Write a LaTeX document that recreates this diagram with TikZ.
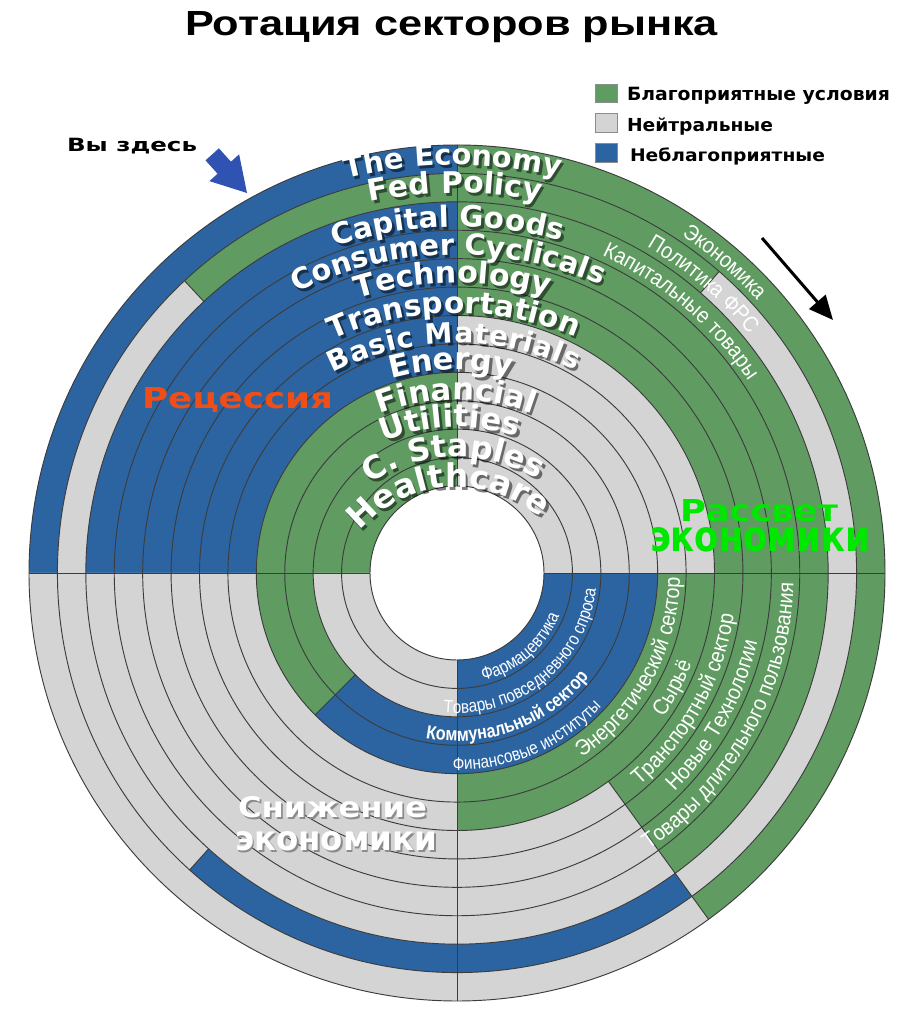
\documentclass[tikz,border=0pt]{standalone}
\usepackage{fontspec}
\setmainfont{Liberation Sans}
\newfontfamily\dvfamily{DejaVu Sans}
\newfontfamily\narrowfamily{Liberation Sans}[FakeStretch=0.9]
\newfontfamily\narrowerfamily{Liberation Sans}[FakeStretch=0.85]
\usetikzlibrary{decorations.text,arrows.meta}
\newlength\pxu
\setlength\pxu{0.75pt}
\definecolor{cgreen}{RGB}{96,156,98}
\definecolor{cgray}{RGB}{212,212,212}
\definecolor{cblue}{RGB}{44,100,162}
\definecolor{cline}{RGB}{60,60,60}
\definecolor{cred}{RGB}{240,78,22}
\definecolor{cbright}{RGB}{0,232,0}
\definecolor{carrow}{RGB}{48,82,178}
\newcommand\annseg[5]{\fill[#1] (#2:#5) arc[start angle=#2,end angle=#3,radius=#5] -- (#3:#4) arc[start angle=#3,end angle=#2,radius=#4] -- cycle;}
\newcommand\englabfont[1]{\dvfamily\bfseries\fontsize{#1pt}{#1pt}\selectfont}
\newcommand\englab[5]{%
  \begin{scope}[shift={(459.5,398)},opacity=0.5]
    \path[decoration={text along path,text align=fit to path,text={|\englabfont{#5}\color{black}|#4}},decorate]
      (#2:#1) arc[start angle=#2,end angle=#3,radius=#1];
  \end{scope}
  \begin{scope}[shift={(457,401)}]
    \path[decoration={text along path,text align=fit to path,text={|\englabfont{#5}\color{white}|#4}},decorate]
      (#2:#1) arc[start angle=#2,end angle=#3,radius=#1];
  \end{scope}}
\newcommand\rufontA{\narrowfamily\fontsize{16.5pt}{17pt}\selectfont\color{white}}
\newcommand\rufontB{\narrowerfamily\fontsize{13.5pt}{14pt}\selectfont\color{white}}
\newcommand\rufontC{\narrowerfamily\bfseries\fontsize{14.25pt}{15pt}\selectfont\color{white}}
\newcommand\rucw[4]{\path[decoration={text along path,text align=center,text={|#1|#4}},decorate] (#3+70:#2) arc[start angle=#3+70,end angle=#3-70,radius=#2];}
\newcommand\ruccw[4]{\path[decoration={text along path,text align=center,text={|#1|#4}},decorate] (#3-70:#2) arc[start angle=#3-70,end angle=#3+70,radius=#2];}
\tikzset{sepline/.style={draw=cline,line width=0.7pt},
  legbox/.style={draw=black!45,line width=0.75pt},
  plain/.style={anchor=base west,inner sep=0pt,outer sep=0pt}}
\begin{document}
\begin{tikzpicture}[x=0.75pt,y=0.75pt]
\useasboundingbox (0,0) rectangle (911,1017);
\fill[white] (0,0) rectangle (911,1017);
\begin{scope}[shift={(457,444)}]
  % ring 1
  \annseg{cgreen}{-54}{90}{399.58}{428}
  \annseg{cblue}{90}{180}{399.58}{428}
  \annseg{cgray}{180}{306}{399.58}{428}
  % ring 2
  \annseg{cgray}{-54}{49}{371.17}{399.58}
  \annseg{cgreen}{49}{133}{371.17}{399.58}
  \annseg{cgray}{133}{228}{371.17}{399.58}
  \annseg{cblue}{228}{306}{371.17}{399.58}
  % rings 3-6
  \annseg{cgreen}{-54}{90}{257.5}{371.17}
  \annseg{cblue}{90}{180}{257.5}{371.17}
  \annseg{cgray}{180}{306}{257.5}{371.17}
  % rings 7-8
  \annseg{cgreen}{-90}{0}{200.67}{257.5}
  \annseg{cgray}{0}{90}{200.67}{257.5}
  \annseg{cblue}{90}{180}{200.67}{257.5}
  \annseg{cgray}{180}{270}{200.67}{257.5}
  % rings 9-10
  \annseg{cblue}{-135}{0}{143.83}{200.67}
  \annseg{cgray}{0}{90}{143.83}{200.67}
  \annseg{cgreen}{90}{225}{143.83}{200.67}
  % rings 11-12
  \annseg{cblue}{-90}{0}{87}{143.83}
  \annseg{cgray}{0}{90}{87}{143.83}
  \annseg{cgreen}{90}{180}{87}{143.83}
  \annseg{cgray}{180}{270}{87}{143.83}
  % separators
  \foreach \r in {87,115.42,143.83,172.25,200.67,229.08,257.5,285.92,314.33,342.75,371.17,399.58,428}
    \draw[sepline] (0,0) circle[radius=\r];
  \foreach \a in {0,90,180,270}
    \draw[sepline] (\a:87) -- (\a:428);
  \draw[sepline] (-54:257.5) -- (-54:428);
  \draw[sepline] (49:371.17) -- (49:399.58);
  \draw[sepline] (133:371.17) -- (133:399.58);
  \draw[sepline] (228:371.17) -- (228:399.58);
  \draw[sepline] (225:143.83) -- (225:200.67);
  % Russian labels
  \rucw{\rufontA}{405.6}{49.3}{Экономика}
  \rucw{\rufontA}{377.2}{49.5}{Политика ФРС}
  \rucw{\rufontA}{348.8}{49.4}{Капитальные товары}
  \ruccw{\rufontA}{223}{-28.5}{Энергетический сектор}
  \ruccw{\rufontA}{251.5}{-28}{Сырьё}
  \ruccw{\rufontA}{280}{-29}{Транспортный сектор}
  \ruccw{\rufontA}{308.3}{-29}{Новые Технологии}
  \ruccw{\rufontA}{336.8}{-28.5}{Товары длительного пользования}
  \ruccw{\rufontB}{111}{-49.5}{Фармацевтика}
  \ruccw{\rufontB}{140}{-51}{Товары повседневного спроса}
  \ruccw{\rufontC}{168}{-69.5}{Коммунальный сектор}
  \ruccw{\rufontB}{197}{-67}{Финансовые институты}
\end{scope}
% English labels: radius, start, end, text, font size (pt)
\englab{451}{104.2}{76.9}{The Economy}{21.6}
\englab{423}{101.9}{79.0}{Fed Policy}{22.3}
\englab{389}{108.3}{74.4}{Capital Goods}{22}
\englab{361}{116.4}{66.6}{Consumer Cyclicals}{21.7}
\englab{333}{107.4}{74.1}{Technology}{22.5}
\englab{303}{114.2}{66.9}{Transportation}{22.2}
\englab{273}{117.0}{64.3}{Basic Materials}{21}
\englab{246}{105.4}{77.2}{Energy}{23}
\englab{216}{110.9}{70.4}{Financial}{23}
\englab{189}{112.8}{71.3}{Utilities}{23.2}
\englab{159}{123.5}{60.0}{C. Staples}{23.6}
\englab{129}{139}{50}{Healthcare}{24.5}
% region labels
\node[plain] (recess) at (142,608) {\resizebox{191\pxu}{21\pxu}{\color{cred}\dvfamily\bfseries Рецессия}};
\node[plain] (dawn1) at (680,495) {\resizebox{158\pxu}{22\pxu}{\color{cbright}\dvfamily\bfseries Рассвет}};
\node[plain] (dawn2) at (650,465) {\resizebox{220\pxu}{24\pxu}{\color{cbright}\dvfamily\bfseries экономики}};
\node[plain] (down1s) at (239.8,197.3) {\resizebox{189\pxu}{21\pxu}{\color{black!45}\dvfamily\bfseries Снижение}};
\node[plain] (down2s) at (236.8,164.3) {\resizebox{202\pxu}{19\pxu}{\color{black!45}\dvfamily\bfseries экономики}};
\node[plain] (down1) at (238,199) {\resizebox{189\pxu}{21\pxu}{\color{white}\dvfamily\bfseries Снижение}};
\node[plain] (down2) at (235,166) {\resizebox{202\pxu}{19\pxu}{\color{white}\dvfamily\bfseries экономики}};
% title
\node[plain] (title) at (185,981) {\resizebox{533\pxu}{24\pxu}{\bfseries Ротация секторов рынка}};
% legend
\filldraw[legbox,fill=cgreen] (595,914) rectangle (617,932);
\filldraw[legbox,fill=cgray] (595,884) rectangle (617,903);
\filldraw[legbox,fill=cblue] (595,854) rectangle (617,873);
\node[plain] (lg1) at (627,916) {\resizebox{263\pxu}{13.3\pxu}{\dvfamily\bfseries Благоприятные условия}};
\node[plain] (lg2) at (627,885.3) {\resizebox{146\pxu}{13.7\pxu}{\dvfamily\bfseries Нейтральные}};
\node[plain] (lg3) at (630,855.3) {\resizebox{195\pxu}{13.7\pxu}{\dvfamily\bfseries Неблагоприятные}};
% you are here
\node[plain] (here) at (67,865.3) {\resizebox{130\pxu}{13.3\pxu}{\dvfamily\bfseries Вы здесь}};
\begin{scope}[shift={(247,824)},rotate=-48]
  \fill[carrow] (0,0) -- (-34,20) -- (-34,9) -- (-52,9) -- (-52,-9) -- (-34,-9) -- (-34,-20) -- cycle;
\end{scope}
% black arrow
\coordinate (bs) at (762,779);
\coordinate (be) at (833,697);
\draw[line width=2.25pt,-{Triangle[length=18pt,width=16pt]}] (bs) -- (be);
\end{tikzpicture}
\end{document}
